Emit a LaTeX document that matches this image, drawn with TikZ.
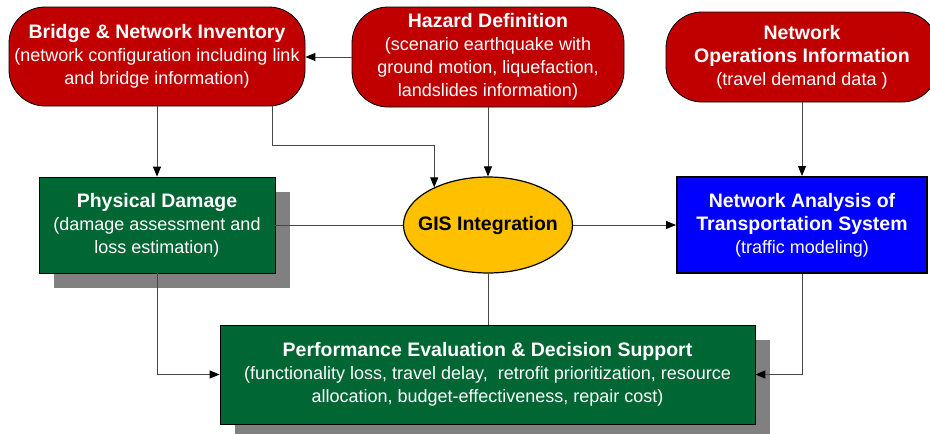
\documentclass[tikz,border=0pt]{standalone}
\usepackage{fontspec}
\setmainfont{Liberation Sans}
\usetikzlibrary{arrows.meta,shapes.geometric}
\definecolor{boxred}{RGB}{192,0,0}
\definecolor{boxgreen}{RGB}{0,102,51}
\definecolor{gisyellow}{RGB}{255,192,0}
\definecolor{boxblue}{RGB}{0,0,255}
\definecolor{shadowgray}{RGB}{128,128,128}
\definecolor{linegray}{RGB}{70,70,70}
\tikzset{
  txt/.style={text=white, align=center, font=\fontsize{18}{23}\selectfont, inner sep=0pt},
  redbox/.style={txt, draw=black, line width=0.8pt, fill=boxred, rounded corners=36pt},
  greenbox/.style={txt, draw=black, line width=0.8pt, fill=boxgreen},
  bluebox/.style={txt, draw=black, line width=2pt, fill=boxblue},
  gisnode/.style={ellipse, draw=black, line width=1.2pt, fill=gisyellow, inner xsep=-12pt, inner ysep=0pt, font=\fontsize{19.5}{23}\selectfont\bfseries},
  shadowbox/.style={fill=shadowgray, draw=none, inner sep=0pt},
  conn/.style={draw=linegray, line width=0.9pt},
  arr/.style={conn, -{Triangle[length=10pt,width=8pt,color=black]}}
}
\newcommand{\ttlb}[1]{{\fontsize{19.5}{23}\selectfont\bfseries #1}}
\begin{document}
\begin{tikzpicture}[x=1pt,y=-1pt]
\useasboundingbox (0,0) rectangle (930,434);
% shadows
\node[shadowbox, minimum width=236pt, minimum height=96pt] (pdsh) at (172,240) {};
\node[shadowbox, minimum width=535pt, minimum height=99pt] (pesh) at (502,389) {};
% boxes
\node[redbox, minimum width=296pt, minimum height=99pt] (br) at (157,56.5)
  {\ttlb{Bridge \& Network Inventory}\\(network configuration including link\\and bridge information)};
\node[redbox, minimum width=272pt, minimum height=100pt] (hz) at (488,57)
  {\ttlb{Hazard Definition}\\(scenario earthquake with\\ground motion, liquefaction,\\landslides information)};
\node[redbox, minimum width=272pt, minimum height=90pt] (no) at (802,57)
  {\ttlb{Network}\\\ttlb{Operations Information}\\(travel demand data )};
\node[greenbox, minimum width=236pt, minimum height=96pt] (pd) at (157,225)
  {\ttlb{Physical Damage}\\(damage assessment and\\loss estimation)};
\node[gisnode, minimum width=169pt, minimum height=96pt] (gis) at (488,225) {GIS Integration};
\node[bluebox, minimum width=250pt, minimum height=96pt] (na) at (802,225)
  {\ttlb{Network Analysis of}\\\ttlb{Transportation System}\\(traffic modeling)};
\node[greenbox, minimum width=535pt, minimum height=99pt] (pe) at (487.5,374.5)
  {\ttlb{Performance Evaluation \& Decision Support}\\(functionality loss, travel delay,\ \ retrofit prioritization, resource\\allocation, budget-effectiveness, repair cost)};
% connectors
\coordinate (k1) at (272,145);
\draw[arr] (hz.west) -- (hz.west -| br.east);
\draw[arr] (br.south) -- (pd.north);
\draw[arr] (br.south -| k1) -- (k1) -- (k1 -| gis.145.7) -- (gis.145.7);
\draw[arr] (hz.south) -- (gis.north);
\draw[conn] (pd.east) -- (gis.west);
\draw[arr] (gis.east) -- (na.west);
\draw[arr] (no.south) -- (na.north);
\draw[conn] (gis.south) -- (gis.south |- pe.north);
\draw[arr] (pd.south) |- (pe.west);
\draw[arr] (na.south) |- (pe.east);
\end{tikzpicture}
\end{document}
